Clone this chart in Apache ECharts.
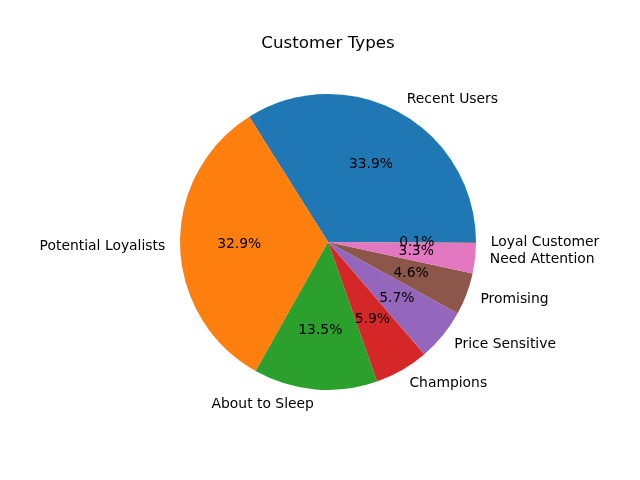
<!DOCTYPE html>
<html>
<head>
<meta charset="utf-8">
<script src="https://cdn.jsdelivr.net/npm/echarts@6/dist/echarts.min.js"></script>
<style>
  html, body { margin: 0; padding: 0; background: #fff; }
  #chart { width: 640px; height: 480px; }
</style>
</head>
<body>
<div id="chart"></div>
<script>
const categories = ['Recent Users', 'Potential Loyalists', 'About to Sleep', 'Champions',
  'Price Sensitive', 'Promising', 'Need Attention', 'Loyal Customer']
const shares = [33.9, 32.9, 13.5, 5.9, 5.7, 4.6, 3.3, 0.1]
const colors = ['#1f77b4', '#ff7f0e', '#2ca02c', '#d62728', '#9467bd', '#8c564b', '#e377c2', '#7f7f7f']

const font = 'DejaVu Sans, sans-serif'
const cx = 328
const cy = 242
const r = 148

const chart = echarts.init(document.getElementById('chart'))

const baseSeries = {
  type: 'pie',
  center: [cx, cy],
  startAngle: 0,
  clockwise: false,
  avoidLabelOverlap: false,
  labelLayout: { hideOverlap: false },
  silent: true,
  emphasis: { disabled: true }
}

chart.setOption({
  animation: false,
  backgroundColor: '#fff',
  title: {
    text: 'Customer Types',
    left: cx,
    textAlign: 'center',
    top: 35,
    padding: 0,
    textStyle: { fontFamily: font, fontSize: 16.7, fontWeight: 'normal', color: '#000' }
  },
  series: [
    {
      // wedges + category labels at 1.1 r
      ...baseSeries,
      radius: [0, r],
      data: categories.map((name, i) => ({ name, value: shares[i], itemStyle: { color: colors[i] } })),
      itemStyle: { borderWidth: 0 },
      label: {
        show: true,
        position: 'outside',
        distanceToLabelLine: 0,
        fontFamily: font,
        fontSize: 13.9,
        color: '#000',
        formatter: '{b}'
      },
      labelLine: { show: false, length: r * 0.1, length2: 0 }
    },
    {
      // percent labels at 0.6 r (echarts pushes inside labels 3px outward)
      ...baseSeries,
      radius: [r * 0.2 - 6, r],
      data: categories.map((name, i) => ({ name, value: shares[i] })),
      itemStyle: { color: 'rgba(0,0,0,0)', borderWidth: 0 },
      label: {
        show: true,
        position: 'inside',
        fontFamily: font,
        fontSize: 13.9,
        color: '#000',
        formatter: p => p.value.toFixed(1) + '%'
      },
      labelLine: { show: false }
    }
  ]
})
</script>
</body>
</html>
